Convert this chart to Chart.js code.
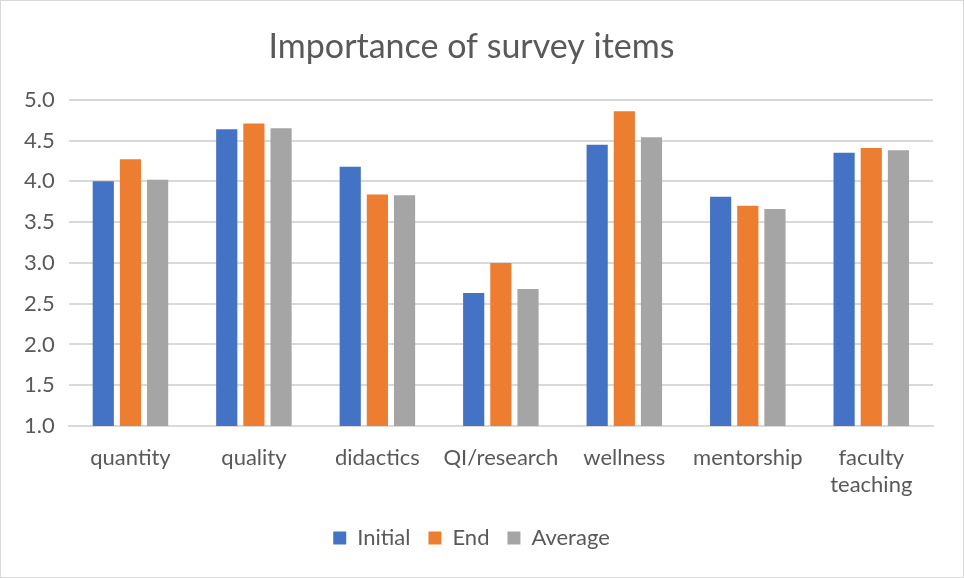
<!DOCTYPE html>
<html>
<head>
<meta charset="utf-8">
<script src="https://cdn.jsdelivr.net/npm/chart.js@4"></script>
<style>
  body { margin: 0; background: #fff; }
  #box { width: 964px; height: 578px; box-sizing: border-box; border: 1px solid #d9d9d9; }
</style>
</head>
<body>
<div id="box"><canvas id="chart"></canvas></div>
<script>
var categories = ["quantity", "quality", "didactics", "QI/research", "wellness", "mentorship", ["faculty", "teaching"]];
var initialValues = [4.00, 4.64, 4.18, 2.63, 4.45, 3.81, 4.35];
var endValues = [4.27, 4.71, 3.84, 3.00, 4.86, 3.70, 4.41];
var averageValues = [4.02, 4.65, 3.83, 2.68, 4.54, 3.66, 4.38];

var fontFamily = "Lato, 'Open Sans', sans-serif";
var textColor = "#595959";

new Chart(document.getElementById("chart"), {
    type: "bar",
    data: {
        labels: categories,
        datasets: [
            { label: "Initial", data: initialValues, backgroundColor: "#4472c4" },
            { label: "End", data: endValues, backgroundColor: "#ed7d31" },
            { label: "Average", data: averageValues, backgroundColor: "#a5a5a5" }
        ]
    },
    options: {
        responsive: true,
        maintainAspectRatio: false,
        animation: false,
        layout: { padding: { left: 9, right: 30, top: 8, bottom: 18 } },
        datasets: {
            bar: { categoryPercentage: 0.66, barPercentage: 0.78 }
        },
        plugins: {
            title: {
                display: true,
                text: "Importance of survey items",
                color: textColor,
                font: { family: fontFamily, size: 34, weight: "normal" },
                padding: { top: 18, bottom: 32 }
            },
            legend: {
                position: "bottom",
                labels: {
                    color: textColor,
                    font: { family: fontFamily, size: 22 },
                    boxWidth: 13,
                    boxHeight: 13,
                    padding: 18
                }
            },
            tooltip: { enabled: false }
        },
        scales: {
            x: {
                grid: { display: false },
                border: { color: "#d9d9d9", width: 2 },
                ticks: { color: textColor, font: { family: fontFamily, size: 22, lineHeight: 1.25 }, maxRotation: 0, padding: 10 }
            },
            y: {
                min: 1,
                max: 5,
                ticks: {
                    stepSize: 0.5,
                    color: textColor,
                    font: { family: fontFamily, size: 22 },
                    padding: 14,
                    callback: function (v) { return v.toFixed(1); }
                },
                grid: { color: "#d9d9d9", lineWidth: 2, drawTicks: false },
                border: { display: false }
            }
        }
    }
});
</script>
</body>
</html>
